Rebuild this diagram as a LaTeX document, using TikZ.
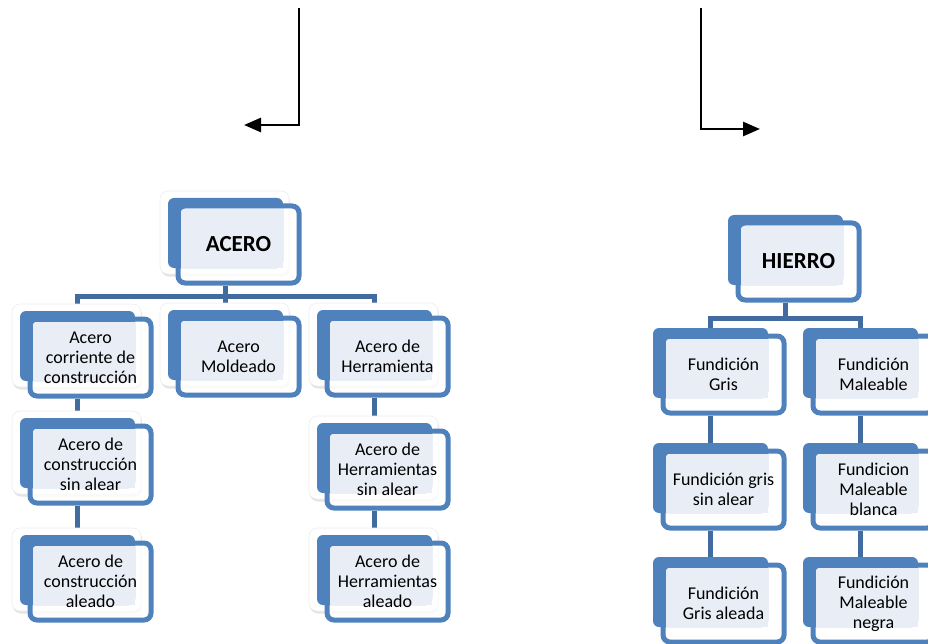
\documentclass[tikz,border=0pt]{standalone}
\usepackage{fontspec}
\setmainfont{Carlito}
\usepackage{tikz}
\usetikzlibrary{arrows.meta, positioning, calc, shadows}
\definecolor{boxblue}{RGB}{79,129,189}
\definecolor{boxlight}{RGB}{233,238,246}
\definecolor{linkblue}{RGB}{66,108,160}
\pgfdeclarelayer{links}
\pgfdeclarelayer{back}
\pgfsetlayers{links,back,main}

\begin{document}
\begin{tikzpicture}[x=1pt, y=-1pt,
    unit/.style={draw=boxblue, line width=5pt, rounded corners=7pt, minimum width=121pt,
      minimum height=77pt, inner sep=0pt, align=center, font=\fontsize{18}{20}\selectfont},
    cardbg/.style={fill=white, draw=black!7, line width=0.6pt, rounded corners=8pt,
      drop shadow={opacity=0.22, shadow xshift=1pt, shadow yshift=-2.5pt}},
    link/.style={draw=linkblue, line width=5pt},
    elbow/.style={line width=2.7pt, -{Triangle[length=17pt, width=14pt]}}]
  \useasboundingbox (0,0) rectangle (928,644);
  % acero tree
  \foreach \n/\x/\y/\t in {acero/238.5/244.5/{\fontsize{23}{26}\selectfont\bfseries ACERO},
      ac1/90.5/357.5/Acero\\corriente de\\construcción, ac2/238.5/356.5/Acero\\Moldeado,
      ac3/387.5/356.5/Acero de\\Herramienta, ac4/90.5/464.5/Acero de\\construcción\\sin alear,
      ac5/90.5/581.5/Acero de\\construcción\\aleado, ac6/387.5/469.5/Acero de\\Herramientas\\sin alear,
      ac7/387.5/581.5/Acero de\\Herramientas\\aleado} {
    \node[unit] (\n) at (\x,\y) {\t};
    \begin{pgfonlayer}{back}
      \fill[cardbg] ($(\n.center)+(-78.5,-53.5)$) rectangle ++(129,83);
      \fill[white, fill opacity=0.8, rounded corners=7pt] (\n.north west) rectangle (\n.south east);
      \fill[boxblue, rounded corners=6pt] ($(\n.center)+(-70.5,-46.5)$) rectangle ++(115,70);
      \fill[boxlight] ($(\n.center)+(-58,-36)$) rectangle ($(\n.center)+(44.5,23.5)$);
    \end{pgfonlayer}}
  % hierro tree
  \foreach \n/\x/\y/\t in {hierro/798.5/261.5/{\fontsize{23}{26}\selectfont\bfseries HIERRO},
      fg/723.5/374.5/Fundición\\Gris, fm/873.5/374.5/Fundición\\Maleable,
      fgs/723.5/489.5/Fundición gris\\sin alear, fmb/873.5/489.5/Fundicion\\Maleable\\blanca,
      fga/723.5/603.5/Fundición\\Gris aleada, fmn/873.5/603.5/Fundición\\Maleable\\negra} {
    \node[unit] (\n) at (\x,\y) {\t};
    \begin{pgfonlayer}{back}
      \fill[white, fill opacity=0.8, rounded corners=7pt] (\n.north west) rectangle (\n.south east);
      \fill[boxblue, rounded corners=6pt] ($(\n.center)+(-70.5,-46.5)$) rectangle ++(115,70);
      \fill[boxlight] ($(\n.center)+(-58,-36)$) rectangle ($(\n.center)+(44.5,23.5)$);
    \end{pgfonlayer}}
  % links
  \begin{pgfonlayer}{links}
    \foreach \c in {ac1,ac2,ac3}
      \draw[link] ($(acero.south)+(-13.5,0)$) -- ++(0,11) -| ($(\c.north)+(-13.5,0)$);
    \foreach \a/\b in {ac1/ac4, ac4/ac5, ac3/ac6, ac6/ac7}
      \draw[link] ($(\a.south)+(-13.5,0)$) -- ($(\b.north)+(-13.5,0)$);
    \foreach \c in {fg,fm}
      \draw[link] ($(hierro.south)+(-13.5,0)$) -- ++(0,16) -| ($(\c.north)+(-13.5,0)$);
    \foreach \a/\b in {fg/fgs, fgs/fga, fm/fmb, fmb/fmn}
      \draw[link] ($(\a.south)+(-13.5,0)$) -- ($(\b.north)+(-13.5,0)$);
  \end{pgfonlayer}
  % arrows
  \coordinate (la) at (299,8);
  \coordinate (lb) at (244,125);
  \coordinate (ra) at (701,8);
  \coordinate (rb) at (760,129);
  \draw[elbow] (la) |- (lb);
  \draw[elbow] (ra) |- (rb);
\end{tikzpicture}
\end{document}
